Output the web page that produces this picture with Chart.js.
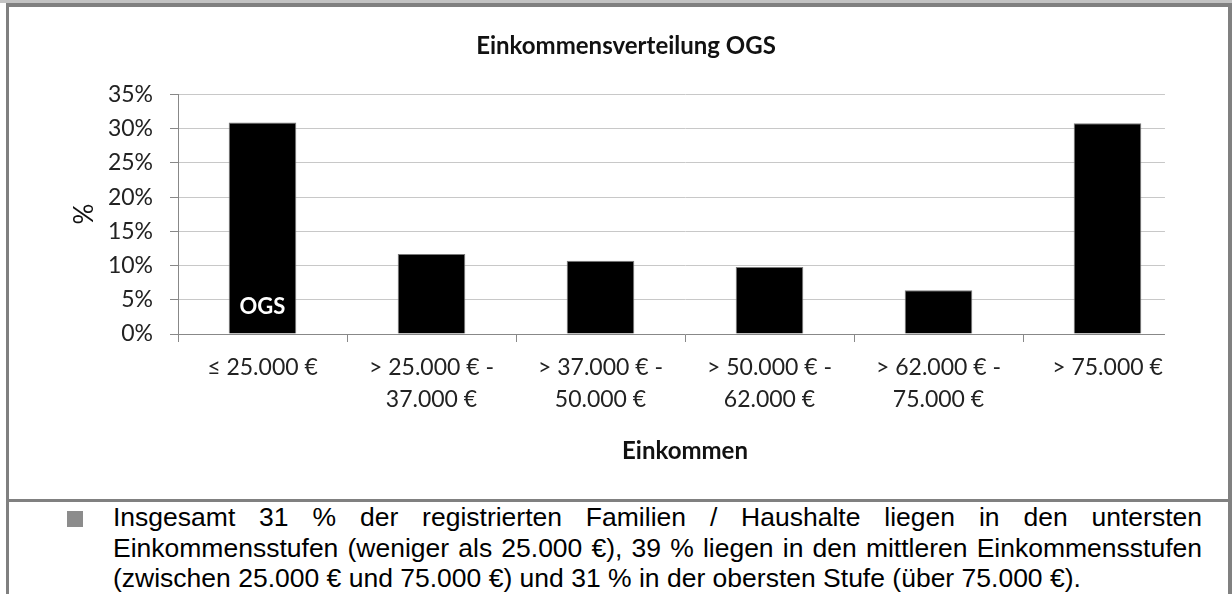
<!DOCTYPE html>
<html>
<head>
<meta charset="utf-8">
<script src="https://cdn.jsdelivr.net/npm/chart.js@4"></script>
<style>
  body { margin: 0; background: #fff; }
  #wrap { position: relative; width: 1232px; height: 594px; overflow: hidden; background: #fff; }
  #chart { position: absolute; left: 0; top: 0; }
  .line { position: absolute; background: #808080; }
  .bullet { position: absolute; left: 67px; top: 511px; width: 16px; height: 16px; background: #8c8c8c; }
  .note { position: absolute; left: 113px; top: 502px; width: 1089px; font-family: "Liberation Sans", Arial, sans-serif; font-size: 26.5px; line-height: 30.5px; color: #000; }
  .note div { white-space: nowrap; }
  .note .j { text-align: justify; text-align-last: justify; white-space: normal; }
</style>
</head>
<body>
<div id="wrap">
  <canvas id="chart" width="1232" height="499"></canvas>
  <div class="line" style="left:0;top:0;width:1232px;height:3px;background:#c3c3c3"></div>
  <div class="line" style="left:6px;top:3px;width:1226px;height:4px"></div>
  <div class="line" style="left:6px;top:3px;width:3px;height:591px"></div>
  <div class="line" style="left:1228px;top:3px;width:4px;height:591px"></div>
  <div class="line" style="left:6px;top:499px;width:1226px;height:3px"></div>
  <div class="bullet"></div>
  <div class="note">
    <div class="j">Insgesamt 31 % der registrierten Familien / Haushalte liegen in den untersten</div>
    <div class="j">Einkommensstufen (weniger als 25.000 €), 39 % liegen in den mittleren Einkommensstufen</div>
    <div>(zwischen 25.000 € und 75.000 €) und 31 % in der obersten Stufe (über 75.000 €).</div>
  </div>
</div>
<script>
// Einkommensstufen und Anteile (in %)
var categories = [
    ['≤ 25.000 €'],
    ['> 25.000 € -', '37.000 €'],
    ['> 37.000 € -', '50.000 €'],
    ['> 50.000 € -', '62.000 €'],
    ['> 62.000 € -', '75.000 €'],
    ['> 75.000 €']
];
var seriesName = 'OGS';
var shares = [30.9, 11.7, 10.7, 9.8, 6.4, 30.8];
var yMax = 35;
var yStep = 5;

Chart.defaults.font.family = 'Lato, "Open Sans", sans-serif';
Chart.defaults.color = '#222';

// Serienname weiss im ersten Balken
var seriesLabel = {
    id: 'seriesLabel',
    afterDatasetsDraw: function(chart) {
        var bar = chart.getDatasetMeta(0).data[0];
        var ctx = chart.ctx;
        ctx.save();
        ctx.fillStyle = '#fff';
        ctx.font = 'bold 22px Lato';
        ctx.textAlign = 'center';
        ctx.textBaseline = 'middle';
        ctx.fillText(chart.data.datasets[0].label, bar.x, bar.base - 27);
        ctx.restore();
    }
};

// Gitterlinien enden vor dem rechten Rand der Achse
var gridEnd = {
    id: 'gridEnd',
    beforeDatasetsDraw: function(chart) {
        var x = chart.scales.x, a = chart.chartArea;
        var step = (x.right - x.left) / x.ticks.length;
        var from = x.right - step * 0.16;
        var ctx = chart.ctx;
        ctx.save();
        ctx.fillStyle = '#fff';
        ctx.fillRect(from, a.top - 2, x.right - from + 3, a.bottom - a.top + 12);
        ctx.restore();
    }
};

var ctx = document.getElementById('chart').getContext('2d');
var chart = new Chart(ctx, {
    type: 'bar',
    data: {
        labels: categories,
        datasets: [{
            label: seriesName,
            data: shares,
            backgroundColor: '#000',
            borderColor: '#7a7a7a',
            borderWidth: 1,
            categoryPercentage: 1,
            barPercentage: 0.4
        }]
    },
    plugins: [gridEnd, seriesLabel],
    options: {
        responsive: false,
        animation: false,
        layout: { padding: { left: 60, right: 40, top: 0, bottom: 33 } },
        plugins: {
            legend: { display: false },
            tooltip: { enabled: false },
            title: {
                display: true,
                text: 'Einkommensverteilung OGS',
                color: '#111',
                font: { size: 24, weight: 'bold', lineHeight: 1.2 },
                padding: { top: 31.6, bottom: 34 }
            }
        },
        scales: {
            x: {
                grid: { offset: true, drawOnChartArea: false, tickLength: 8, tickColor: '#888' },
                border: { color: '#888' },
                ticks: { font: { size: 23, lineHeight: 32 / 23 }, padding: 10, maxRotation: 0, autoSkip: false },
                title: {
                    display: true,
                    text: 'Einkommen',
                    color: '#111',
                    font: { size: 24, weight: 'bold', lineHeight: 1.2 },
                    padding: { top: 11.2, bottom: 0 }
                }
            },
            y: {
                min: 0,
                max: yMax,
                afterFit: function(scale) { scale.width = 118; },
                grid: { color: '#c8c8c8', tickLength: 8, tickColor: '#888' },
                border: { color: '#888' },
                ticks: {
                    stepSize: yStep,
                    padding: 17,
                    font: { size: 23 },
                    callback: function(v) { return v + '%'; }
                },
                title: {
                    display: true,
                    text: '%',
                    color: '#111',
                    font: { size: 26, lineHeight: 1.2 },
                    padding: { top: 9, bottom: 0 }
                }
            }
        }
    }
});
</script>
</body>
</html>
